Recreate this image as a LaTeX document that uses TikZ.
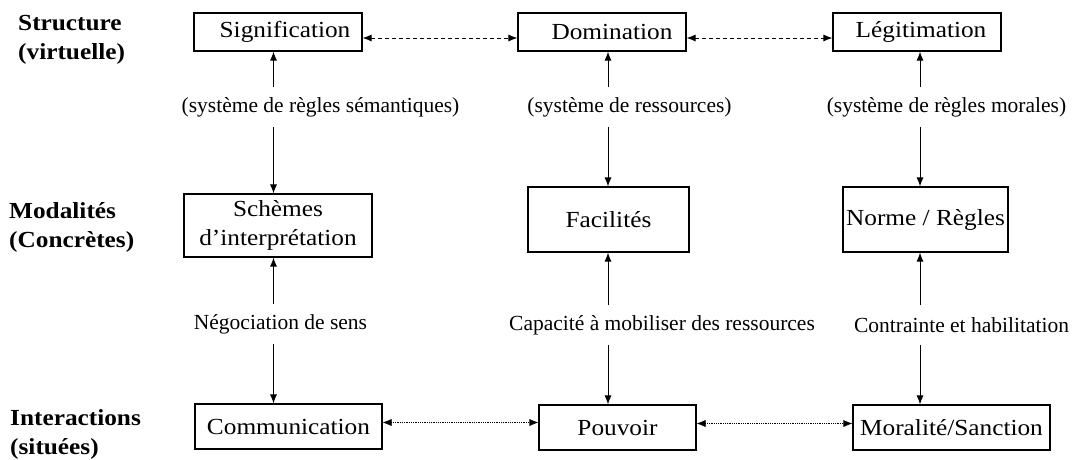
\documentclass[tikz,border=0pt]{standalone}
\usepackage{fontspec}
\setmainfont{Liberation Serif}
\newfontfamily\boxfont[FakeStretch=1.1]{Liberation Serif}
\usetikzlibrary{arrows.meta}

\begin{document}
\begin{tikzpicture}[x=1pt,y=-1pt,>={Latex[length=9pt,width=7pt]},
    boite/.style={draw,line width=1.1pt,inner sep=0pt,align=center,
      font=\boxfont\fontsize{23}{29}\selectfont},
    etiq/.style={inner sep=0pt,minimum height=40pt,
      font=\fontsize{21.5}{26}\selectfont},
    niveau/.style={anchor=west,align=left,inner sep=0pt,
      font=\boxfont\bfseries\fontsize{23}{29}\selectfont},
    lien/.style={->,line width=1pt},
    tirets/.style={<->,line width=1pt,dash pattern=on 4pt off 3pt},
    points/.style={<->,line width=0.6pt,dash pattern=on 1pt off 0.8pt}]
    \useasboundingbox (0,0) rectangle (1073,459);
    \node[niveau] (n1) at (18,40) {Structure\\(virtuelle)};
    \node[niveau] (n2) at (9,227) {Modalités\\(Concrètes)};
    \node[niveau] (n3) at (10,434) {Interactions\\(situées)};
    \node[boite,minimum width=168pt,minimum height=38pt] (sig) at (278,32) {\hspace*{14pt}Signification};
    \node[boite,minimum width=168pt,minimum height=38pt] (dom) at (602,32) {\hspace*{20pt}Domination};
    \node[boite,minimum width=168pt,minimum height=38pt] (leg) at (917,32) {\hspace*{8pt}Légitimation};
    \node[boite,minimum width=188pt,minimum height=63pt] (sch) at (278,225.5) {Schèmes\\d’interprétation};
    \node[boite,minimum width=161pt,minimum height=65pt] (fac) at (608.5,219.5) {Facilités};
    \node[boite,minimum width=165pt,minimum height=65pt] (nor) at (925.5,219.5) {Norme / Règles};
    \node[boite,minimum width=187pt,minimum height=45pt] (com) at (288.5,426.5) {Communication};
    \node[boite,minimum width=157pt,minimum height=45pt] (pou) at (617.5,427.5) {Pouvoir};
    \node[boite,minimum width=197pt,minimum height=45pt] (mor) at (951.5,427.5) {Moralité/Sanction};
    \node[etiq] (l1) at (320.5,107) {(système de règles sémantiques)};
    \node[etiq] (l2) at (629.5,107) {(système de ressources)};
    \node[etiq] (l3) at (946.5,107) {(système de règles morales)};
    \node[etiq] (l4) at (280.5,324) {Négociation de sens};
    \node[etiq] (l5) at (662,325) {Capacité à mobiliser des ressources};
    \node[etiq] (l6) at (961.5,325) {Contrainte et habilitation};
    \coordinate (c1) at (273.5,0);
    \coordinate (c2) at (608,0);
    \coordinate (c3) at (920,0);
    \draw[lien] (l1.north -| c1) -- (sig.south -| c1);
    \draw[lien] (l1.south -| c1) -- (sch.north -| c1);
    \draw[lien] (l4.north -| c1) -- (sch.south -| c1);
    \draw[lien] (l4.south -| c1) -- (com.north -| c1);
    \draw[lien] (l2.north -| c2) -- (dom.south -| c2);
    \draw[lien] (l2.south -| c2) -- (fac.north -| c2);
    \draw[lien] (l5.north -| c2) -- (fac.south -| c2);
    \draw[lien] (l5.south -| c2) -- (pou.north -| c2);
    \draw[lien] (l3.north -| c3) -- (leg.south -| c3);
    \draw[lien] (l3.south -| c3) -- (nor.north -| c3);
    \draw[lien] (l6.north -| c3) -- (nor.south -| c3);
    \draw[lien] (l6.south -| c3) -- (mor.north -| c3);
    \draw[tirets] ([yshift=-6pt]sig.east) -- ([yshift=-6pt]dom.west);
    \draw[tirets] ([yshift=-6pt]dom.east) -- ([yshift=-6pt]leg.west);
    \draw[points] ([yshift=4pt]com.east) -- ([yshift=4pt]com.east -| pou.west);
    \draw[points] ([yshift=4pt]pou.east) -- ([yshift=4pt]mor.west);
  \end{tikzpicture}
\end{document}
